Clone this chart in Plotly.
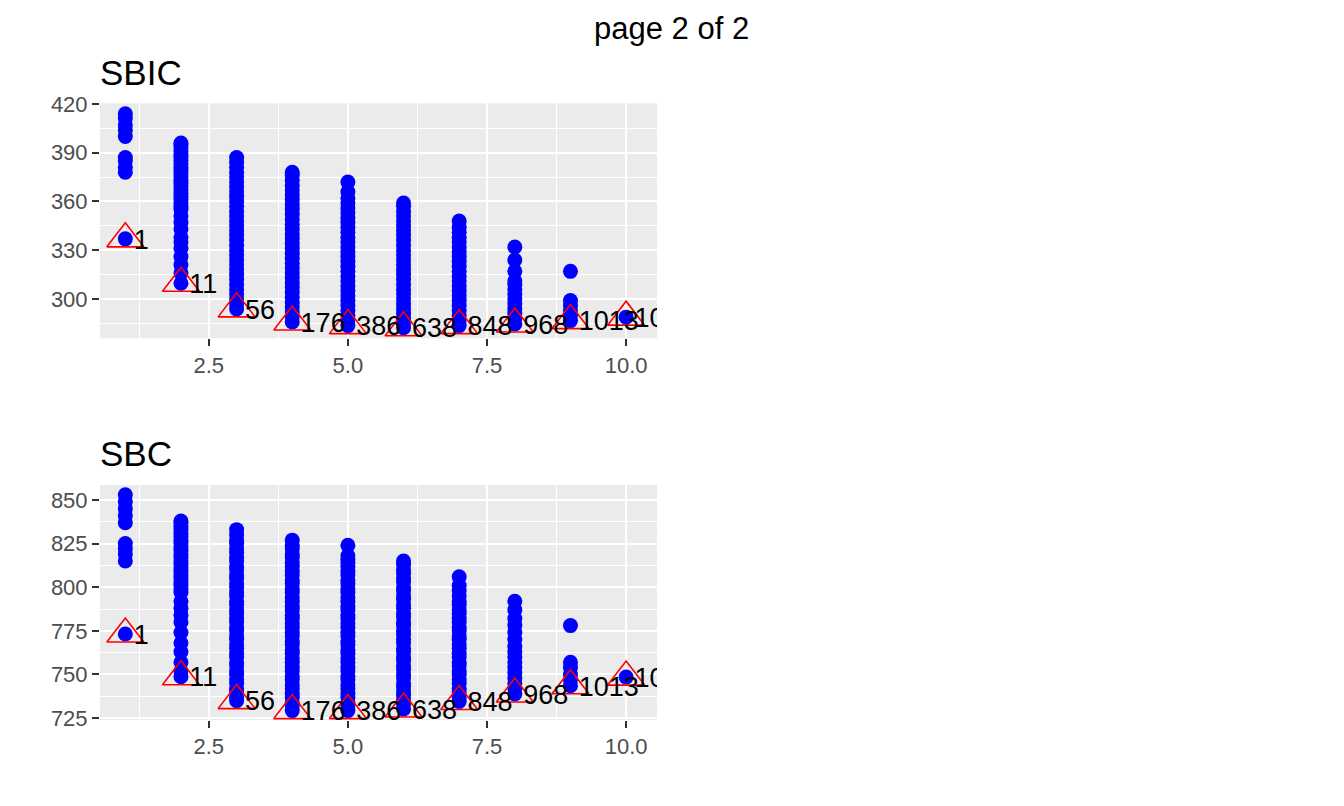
import plotly.graph_objects as go

# ---------------- data ----------------
n_predictors = [1, 2, 3, 4, 5, 6, 7, 8, 9, 10]
best_model_ids = ["1", "11", "56", "176", "386", "638", "848", "968", "1013", "1023"]

sbic_best = [337.0, 309.7, 293.9, 285.8, 283.6, 282.3, 283.6, 284.6, 286.7, 288.8]
sbc_best = [773.2, 748.7, 735.0, 729.3, 729.3, 730.2, 734.5, 738.8, 743.5, 748.5]

sbic_n1 = [337.0, 378, 381, 385, 387, 400, 404, 407, 411, 414]
sbic_n2 = [309.7, 316, 321, 326, 331, 335, 338, 343, 347, 351, 355, 357, 359, 361, 363,
           365, 367, 369, 371, 373, 375, 377, 379, 381, 383, 385, 387, 389, 391, 393, 395, 396]
sbic_n3 = [293.9, 297, 300, 303, 306, 309, 312, 315, 318, 321, 324, 327, 330, 333, 336,
           339, 342, 345, 348, 351, 354, 357, 360, 363, 366, 369, 372, 375, 378, 381, 384, 387]
sbic_n4 = [285.8, 289, 292, 295, 298, 301, 304, 307, 310, 313, 316, 319, 322, 325, 328,
           331, 334, 337, 340, 343, 346, 349, 352, 355, 358, 361, 364, 367, 370, 373, 376, 378]
sbic_n5 = [283.6, 287, 290, 293, 296, 299, 302, 305, 308, 311, 314, 317, 320, 323, 326,
           329, 332, 335, 338, 341, 344, 347, 350, 353, 356, 359, 362, 366, 372]
sbic_n6 = [282.3, 285, 288, 291, 294, 297, 300, 303, 306, 309, 312, 315, 318, 321, 324,
           327, 330, 333, 336, 339, 342, 345, 348, 351, 354, 357, 359]
sbic_n7 = [283.6, 287, 290, 293, 296, 299, 302, 305, 308, 311, 314, 317, 320, 323, 326,
           329, 332, 335, 338, 341, 344, 348]
sbic_n8 = [284.6, 288, 291, 294, 297, 300, 303, 306, 309, 311, 317, 324, 332]
sbic_n9 = [286.7, 290, 293, 296, 299, 317]
sbic_n10 = [288.8]

sbc_n1 = [773.2, 815, 819, 822, 825, 837, 841, 845, 849, 853]
sbc_n2 = [748.7, 752, 757, 763, 768, 774, 780, 784, 788, 792, 797, 799, 801, 803, 805,
          807, 809, 811, 813, 815, 817, 819, 821, 823, 825, 827, 829, 831, 833, 835, 837, 838]
sbc_n3 = [735.0, 737, 740, 742, 745, 747, 750, 752, 755, 757, 760, 762, 765, 767, 770,
          772, 775, 777, 780, 782, 785, 787, 790, 792, 795, 797, 800, 802, 805, 807, 810,
          812, 815, 817, 820, 822, 825, 827, 830, 833]
sbc_n4 = [729.3, 732, 734, 737, 739, 742, 744, 747, 749, 752, 754, 757, 759, 762, 764,
          767, 769, 772, 774, 777, 779, 782, 784, 787, 789, 792, 794, 797, 799, 802, 804,
          807, 809, 812, 814, 817, 819, 822, 824, 827]
sbc_n5 = [729.3, 732, 734, 737, 739, 742, 744, 747, 749, 752, 754, 757, 759, 762, 764,
          767, 769, 772, 774, 777, 779, 782, 784, 787, 789, 792, 794, 797, 799, 802, 804,
          807, 809, 812, 814, 816, 818, 824]
sbc_n6 = [730.2, 733, 735, 738, 740, 743, 745, 748, 750, 753, 755, 758, 760, 763, 765,
          768, 770, 773, 775, 778, 780, 783, 785, 788, 790, 793, 795, 798, 800, 803, 805,
          808, 810, 813, 815]
sbc_n7 = [734.5, 737, 740, 742, 745, 747, 750, 752, 755, 757, 760, 762, 765, 767, 770,
          772, 775, 777, 780, 782, 785, 787, 790, 792, 795, 798, 801, 806]
sbc_n8 = [738.8, 742, 745, 748, 751, 754, 757, 760, 763, 766, 770, 774, 778, 782, 787, 792]
sbc_n9 = [743.5, 747, 750, 754, 757, 778]
sbc_n10 = [748.5]

sbic_groups = [sbic_n1, sbic_n2, sbic_n3, sbic_n4, sbic_n5, sbic_n6, sbic_n7, sbic_n8, sbic_n9, sbic_n10]
sbc_groups = [sbc_n1, sbc_n2, sbc_n3, sbc_n4, sbc_n5, sbc_n6, sbc_n7, sbc_n8, sbc_n9, sbc_n10]

panel_titles = ["SBIC", "SBC"]
page_title = "page 2 of 2"
x_ticks = [2.5, 5.0, 7.5, 10.0]
x_ticktext = ["2.5", "5.0", "7.5", "10.0"]
sbic_ticks = [300, 330, 360, 390, 420]
sbc_ticks = [725, 750, 775, 800, 825, 850]

# ---------------- styling ----------------
# the page body adds an 8 px margin, so the figure is 8 px smaller and
# every layout position below is given relative to that offset
OFF = 8
W, H = 1344 - OFF, 806 - OFF
FONT = "Liberation Sans, Arial, Helvetica, sans-serif"
PANEL_BG = "#EBEBEB"
TICK_COL = "#4D4D4D"
label_nudge = 0.15
label_drop_px = 3          # ggplot centres text a little lower than plotly

sbic_range = [275.8, 420.4]
sbc_range = [723.9, 858.6]
top_px = [103.3, 338.3]
bot_px = [485.0, 720.0]


def px_x(p):
    return (p - OFF) / W


def px_y(p):
    return (H - (p - OFF)) / H


def shifted(rng, px_span):
    d = label_drop_px * (rng[1] - rng[0]) / (px_span[1] - px_span[0])
    return [rng[0] + d, rng[1] + d]


fig = go.Figure()


def add_panel(groups, best, xa, ya, ya_lab):
    xs, ys = [], []
    for k, vals in zip(n_predictors, groups):
        xs.extend([k] * len(vals))
        ys.extend(vals)
    fig.add_trace(go.Scatter(
        x=xs, y=ys, mode="markers", xaxis=xa, yaxis=ya,
        marker=dict(color="#0000FF", size=15, line=dict(width=0)),
        hoverinfo="skip", showlegend=False))
    fig.add_trace(go.Scatter(
        x=n_predictors, y=best, mode="markers", xaxis=xa, yaxis=ya,
        marker=dict(symbol="triangle-up-open", color="#FF0000", size=32,
                    line=dict(color="#FF0000", width=1.6)),
        hoverinfo="skip", showlegend=False))
    fig.add_trace(go.Scatter(
        x=[k + label_nudge for k in n_predictors], y=best, mode="text",
        text=best_model_ids, textposition="middle right", xaxis=xa, yaxis=ya_lab,
        textfont=dict(family=FONT, size=27, color="#000000"),
        cliponaxis=True, hoverinfo="skip", showlegend=False))


add_panel(sbic_groups, sbic_best, "x", "y", "y3")
add_panel(sbc_groups, sbc_best, "x2", "y2", "y4")

xdom = [px_x(100), px_x(657)]
ydom_top = [px_y(top_px[1]), px_y(top_px[0])]
ydom_bot = [px_y(bot_px[1]), px_y(bot_px[0])]


def xaxis_cfg(anchor):
    return dict(
        domain=xdom, anchor=anchor, range=[0.545, 10.555],
        tickvals=x_ticks, ticktext=x_ticktext,
        showgrid=True, gridcolor="#FFFFFF", gridwidth=2,
        minor=dict(dtick=1.25, tick0=0, showgrid=True, gridcolor="#FFFFFF", gridwidth=1),
        zeroline=False, showline=False, automargin=False,
        ticks="outside", ticklen=7, tickwidth=2, tickcolor="#333333",
        tickfont=dict(family=FONT, size=22, color=TICK_COL))


def yaxis_cfg(anchor, dom, rng, tv, minor_dtick, tick0):
    return dict(
        domain=dom, anchor=anchor, range=rng, tickvals=tv,
        showgrid=True, gridcolor="#FFFFFF", gridwidth=2,
        minor=dict(dtick=minor_dtick, tick0=tick0, showgrid=True, gridcolor="#FFFFFF", gridwidth=1),
        zeroline=False, showline=False, automargin=False,
        ticks="outside", ticklen=7, tickwidth=2, tickcolor="#333333",
        tickfont=dict(family=FONT, size=22, color=TICK_COL))


def label_axis_cfg(anchor, over, rng):
    return dict(overlaying=over, anchor=anchor, range=rng, visible=False,
                showgrid=False, zeroline=False, automargin=False)


fig.update_layout(
    width=W, height=H, autosize=False,
    margin=dict(l=0, r=0, t=0, b=0, pad=0),
    paper_bgcolor="#FFFFFF", plot_bgcolor=PANEL_BG,
    xaxis=xaxis_cfg("y"),
    yaxis=yaxis_cfg("x", ydom_top, sbic_range, sbic_ticks, 15, 0),
    xaxis2=xaxis_cfg("y2"),
    yaxis2=yaxis_cfg("x2", ydom_bot, sbc_range, sbc_ticks, 12.5, 0),
    yaxis3=label_axis_cfg("x", "y", shifted(sbic_range, top_px)),
    yaxis4=label_axis_cfg("x2", "y2", shifted(sbc_range, bot_px)),
    font=dict(family=FONT),
    annotations=[
        dict(text=page_title, xref="paper", yref="paper", x=px_x(671), y=px_y(28),
             xanchor="center", yanchor="middle", showarrow=False, borderpad=0,
             font=dict(family=FONT, size=31, color="#000000")),
        dict(text=panel_titles[0], xref="paper", yref="paper", x=px_x(98), y=px_y(72),
             xanchor="left", yanchor="middle", showarrow=False,
             font=dict(family=FONT, size=35, color="#000000")),
        dict(text=panel_titles[1], xref="paper", yref="paper", x=px_x(98), y=px_y(453),
             xanchor="left", yanchor="middle", showarrow=False,
             font=dict(family=FONT, size=35, color="#000000")),
    ],
)

fig.write_html("out.html", config={"displayModeBar": False})
